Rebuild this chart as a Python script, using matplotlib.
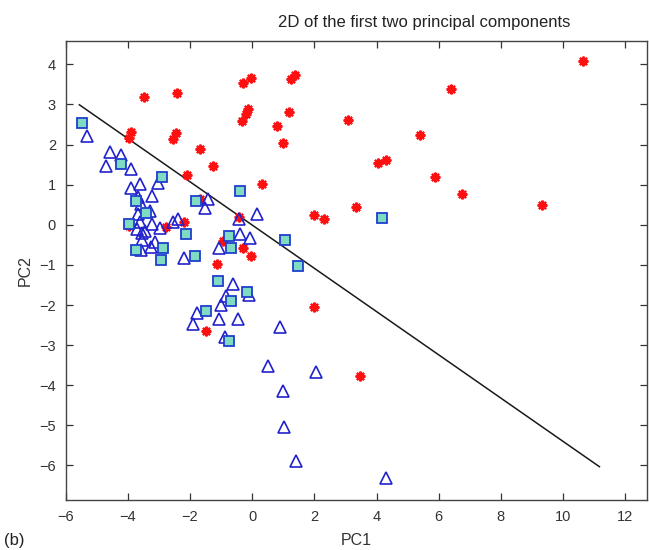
import matplotlib
matplotlib.use("Agg")
import matplotlib.pyplot as plt
import numpy as np

plt.rcParams['font.family'] = ['Liberation Sans', 'DejaVu Sans']
plt.rcParams['axes.unicode_minus'] = True

# class 1: red asterisks
red_x = [-3.47, -2.41, -0.29, -0.05, 1.24, 1.39, -0.13, -0.21, -0.32, 1.17, 0.79, 1.0, 3.07,
         -3.91, -3.96, -2.46, -2.54, -1.68, -1.27, -2.11, 0.31, -1.68, -0.42, 1.99, 2.31, 3.35,
         -2.19, -2.78, -3.95, -0.93, -0.29, -0.05, -1.14, 10.65, 6.39, 5.39, 4.05, 4.31, 5.88,
         6.74, 9.32, -1.50, 1.99, 3.48]
red_y = [3.19, 3.29, 3.53, 3.66, 3.63, 3.73, 2.89, 2.75, 2.59, 2.81, 2.46, 2.04, 2.61,
         2.30, 2.16, 2.28, 2.13, 1.89, 1.47, 1.23, 1.01, 0.64, 0.20, 0.24, 0.15, 0.45,
         0.06, -0.05, -0.04, -0.41, -0.59, -0.79, -0.97, 4.09, 3.38, 2.24, 1.54, 1.62, 1.20,
         0.77, 0.49, -2.65, -2.05, -3.78]

# class 2: blue triangles
tri_x = [-5.30, -4.58, -4.22, -4.69, -3.89, -3.61, -3.02, -3.91, -3.23, -3.68, -3.58, -3.30,
         -3.66, -1.41, -1.52, 0.14, -0.42, -2.40, -2.54, -3.61, -3.23, -2.97, -3.72, -3.45,
         -3.54, -3.56, -3.13, -3.27, -3.58, -0.38, -0.08, -1.06, -2.19, -0.61, -0.84, -0.09,
         -1.01, -1.79, -1.06, -0.45, -1.92, -0.89, 0.90, 0.52, 2.05, 0.98, 1.01, 1.41, 4.29]
tri_y = [2.21, 1.81, 1.74, 1.47, 1.40, 1.02, 1.04, 0.91, 0.72, 0.69, 0.51, 0.35,
         0.28, 0.64, 0.41, 0.26, 0.15, 0.15, 0.08, 0.08, 0.01, -0.09, -0.11, -0.15,
         -0.20, -0.39, -0.42, -0.55, -0.63, -0.23, -0.33, -0.59, -0.82, -1.48, -1.77, -1.75,
         -1.99, -2.20, -2.35, -2.35, -2.47, -2.79, -2.55, -3.53, -3.68, -4.15, -5.04, -5.89, -6.30]

# class 3: squares
sq_x = [-5.47, -4.21, -2.91, -0.40, -3.75, -1.82, -3.43, -3.95, -2.14, -0.74, 1.06, -3.74,
        -2.88, -0.69, -2.94, -1.84, 1.46, -1.10, -0.17, -0.69, -1.48, -0.74, 4.17]
sq_y = [2.53, 1.52, 1.18, 0.84, 0.60, 0.60, 0.30, 0.02, -0.23, -0.29, -0.39, -0.64,
        -0.58, -0.57, -0.88, -0.79, -1.04, -1.41, -1.67, -1.90, -2.15, -2.89, 0.17]

# separating line
line_x = [-5.56, 11.17]
line_y = [2.99, -6.03]

fig = plt.figure(figsize=(6.49, 5.5), dpi=100)
ax = fig.add_axes([65.7/649, 1-500/550, (647-65.7)/649, (500-41)/550])

ax.plot(line_x, line_y, color='#1a1a1a', lw=1.1, zorder=1)
ax.plot(red_x, red_y, linestyle='none', marker=(8, 2, 0), markersize=7,
        markeredgecolor='#ff1010', markeredgewidth=1.6, zorder=2)
ax.plot(tri_x, tri_y, linestyle='none', marker='^', markersize=9,
        markerfacecolor='none', markeredgecolor='#2222cc', markeredgewidth=1.2, zorder=3)
ax.plot(sq_x, sq_y, linestyle='none', marker='s', markersize=6.5,
        markerfacecolor='#7fdcc2', markeredgecolor='#1f3fd0', markeredgewidth=1.3, zorder=4)

ax.set_xlim(-6, 12.7)
ax.set_ylim(-6.86, 4.58)
ax.set_xticks(np.arange(-6, 13, 2))
ax.set_yticks(np.arange(-6, 5, 1))
ax.tick_params(direction='in', top=True, right=True, length=5, width=0.9,
               labelsize=10.5, colors='#333333', pad=7)
for s in ax.spines.values():
    s.set_color('#444444')
    s.set_linewidth(1.0)

ax.set_xlabel('PC1', fontsize=11.5, color='#333333', labelpad=7)
ax.set_ylabel('PC2', fontsize=11.5, color='#333333', labelpad=5)
fig.text(424/649, 1-22/550, '2D of the first two principal components',
         ha='center', va='center', fontsize=12, color='#222222')
fig.text(4/649, 1-541/550, '(b)', ha='left', va='center', fontsize=12, color='#222222')

fig.savefig('out.png', dpi=100)
